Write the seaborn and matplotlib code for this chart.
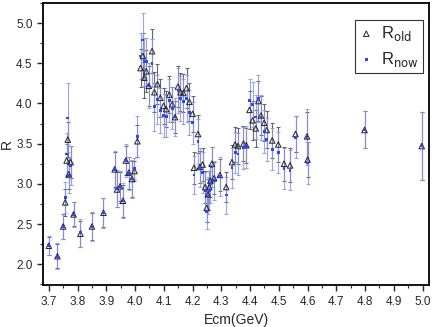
import numpy as np
import pandas as pd
import matplotlib
matplotlib.use("Agg")
import matplotlib.pyplot as plt
from matplotlib.ticker import MultipleLocator
import seaborn as sns

# centre-of-mass energies (GeV)
ecm = [3.700, 3.730, 3.750, 3.757, 3.762, 3.766, 3.769, 3.776, 3.786, 3.810,
       3.850, 3.890, 3.929, 3.937, 3.948, 3.958, 3.968, 3.978, 3.989, 3.998,
       4.008, 4.019, 4.027, 4.032, 4.039, 4.048, 4.059, 4.067, 4.078, 4.088,
       4.099, 4.108, 4.119, 4.129, 4.139, 4.149, 4.158, 4.168, 4.179, 4.189,
       4.200, 4.219, 4.205, 4.225, 4.235, 4.244, 4.249, 4.253, 4.258, 4.262,
       4.267, 4.275, 4.295, 4.317, 4.337, 4.348, 4.358, 4.377, 4.387, 4.398,
       4.409, 4.420, 4.429, 4.438, 4.449, 4.458, 4.477, 4.498, 4.518, 4.539,
       4.558, 4.598, 4.600, 4.798, 4.997]

r_old = [2.23, 2.10, 2.47, 2.77, 3.29, 3.55, 3.12, 3.27, 2.62, 2.38,
         2.47, 2.64, 3.18, 2.93, 2.97, 2.79, 3.29, 3.14, 3.06, 3.16,
         3.53, 4.44, 4.59, 4.32, 4.40, 4.22, 4.65, 4.14, 4.24, 4.07,
         3.97, 3.93, 4.11, 3.99, 3.83, 4.21, 4.14, 4.13, 4.19, 4.02,
         3.87, 3.62, 3.20, 3.21, 3.24, 2.96, 2.70, 2.87, 2.96, 3.04,
         3.25, 3.07, 3.11, 2.96, 3.27, 3.49, 3.47, 3.50, 3.48, 3.92,
         3.79, 3.69, 4.03, 3.85, 3.76, 3.67, 3.54, 3.49, 3.25, 3.23,
         3.62, 3.59, 3.30, 3.67, 3.47]

err_old = [0.11, 0.15, 0.15, 0.17, 0.20, 0.22, 0.18, 0.20, 0.15, 0.16,
           0.17, 0.18, 0.22, 0.22, 0.18, 0.20, 0.18, 0.20, 0.22, 0.12,
           0.20, 0.24, 0.28, 0.25, 0.26, 0.25, 0.27, 0.25, 0.25, 0.24,
           0.22, 0.22, 0.23, 0.22, 0.20, 0.25, 0.24, 0.24, 0.25, 0.24,
           0.22, 0.24, 0.20, 0.20, 0.21, 0.20, 0.18, 0.19, 0.20, 0.20,
           0.21, 0.20, 0.20, 0.19, 0.21, 0.22, 0.22, 0.22, 0.22, 0.24,
           0.24, 0.23, 0.25, 0.24, 0.23, 0.23, 0.22, 0.22, 0.21, 0.21,
           0.22, 0.30, 0.22, 0.23, 0.42]

r_now = [2.23, 2.10, 2.47, 2.83, 3.37, 3.82, 3.10, 3.23, 2.62, 2.39,
         2.47, 2.64, 3.18, 2.94, 2.96, 2.79, 3.29, 3.13, 3.06, 3.19,
         3.59, 4.59, 4.79, 4.52, 4.52, 4.22, 4.50, 3.96, 4.05, 3.91,
         3.85, 3.84, 4.04, 3.94, 3.83, 4.16, 4.06, 4.02, 4.06, 3.89,
         3.76, 3.53, 3.11, 3.20, 3.14, 2.91, 2.66, 2.85, 2.92, 3.00,
         3.21, 3.04, 3.09, 2.86, 3.20, 3.39, 3.37, 3.45, 3.46, 4.04,
         3.99, 3.83, 4.06, 3.83, 3.65, 3.55, 3.43, 3.39, 3.19, 3.17,
         3.58, 3.58, 3.26, 3.67, 3.47]

err_now = [0.12, 0.16, 0.16, 0.19, 0.26, 0.43, 0.22, 0.24, 0.16, 0.17,
           0.18, 0.19, 0.23, 0.23, 0.20, 0.22, 0.20, 0.21, 0.24, 0.13,
           0.25, 0.28, 0.33, 0.30, 0.30, 0.28, 0.30, 0.30, 0.30, 0.28,
           0.27, 0.26, 0.27, 0.26, 0.24, 0.28, 0.28, 0.28, 0.29, 0.28,
           0.26, 0.28, 0.24, 0.24, 0.25, 0.24, 0.22, 0.23, 0.24, 0.24,
           0.25, 0.24, 0.24, 0.23, 0.25, 0.26, 0.26, 0.26, 0.26, 0.27,
           0.28, 0.27, 0.29, 0.28, 0.27, 0.27, 0.26, 0.26, 0.25, 0.25,
           0.26, 0.35, 0.26, 0.23, 0.42]

df = pd.DataFrame({"Ecm": ecm, "R_old": r_old, "err_old": err_old,
                   "R_now": r_now, "err_now": err_now})

sns.set_style("ticks")
plt.rcParams["font.family"] = ["Liberation Sans", "DejaVu Sans"]

fig = plt.figure(figsize=(4.35, 3.27), dpi=100)
ax = fig.add_axes([0.099, 0.128, 0.887, 0.863])

# error bars first, markers on top
ax.errorbar(df["Ecm"], df["R_old"], yerr=df["err_old"], fmt="none",
            ecolor="#666666", elinewidth=0.8, capsize=1.5, capthick=0.8, zorder=2)
ax.errorbar(df["Ecm"], df["R_now"], yerr=df["err_now"], fmt="none",
            ecolor="#8c96e6", elinewidth=0.8, capsize=1.5, capthick=0.8,
            alpha=0.85, zorder=2)

sns.scatterplot(data=df, x="Ecm", y="R_old", marker="^", s=16,
                facecolor="none", edgecolor="#222222", linewidth=0.7,
                label="R$_{\\rm old}$", ax=ax, zorder=3)
sns.scatterplot(data=df, x="Ecm", y="R_now", marker="s", s=4,
                color="#2a45ff", edgecolor="none",
                label="R$_{\\rm now}$", ax=ax, zorder=4)

ax.set_xlim(3.68, 5.022)
ax.set_ylim(1.74, 5.25)
ax.xaxis.set_major_locator(MultipleLocator(0.1))
ax.xaxis.set_minor_locator(MultipleLocator(0.05))
ax.yaxis.set_major_locator(MultipleLocator(0.5))
ax.yaxis.set_minor_locator(MultipleLocator(0.25))
ax.tick_params(which="major", direction="out", length=4, width=1.0, labelsize=8.5)
ax.tick_params(which="minor", direction="out", length=2, width=0.8)
for sp in ax.spines.values():
    sp.set_linewidth(1.3)
    sp.set_color("black")

ax.set_xlabel("Ecm(GeV)", fontsize=10)
ax.set_ylabel("R", fontsize=10)
ax.yaxis.set_label_coords(-0.075, 0.5)

leg = ax.legend(loc="upper right", bbox_to_anchor=(0.985, 0.94), fontsize=12,
                frameon=True, fancybox=False, edgecolor="black",
                handlelength=0.8, handletextpad=0.5, borderpad=0.25,
                labelspacing=0.4, borderaxespad=0)
leg.get_frame().set_linewidth(0.8)

fig.savefig("out.png", dpi=100)
